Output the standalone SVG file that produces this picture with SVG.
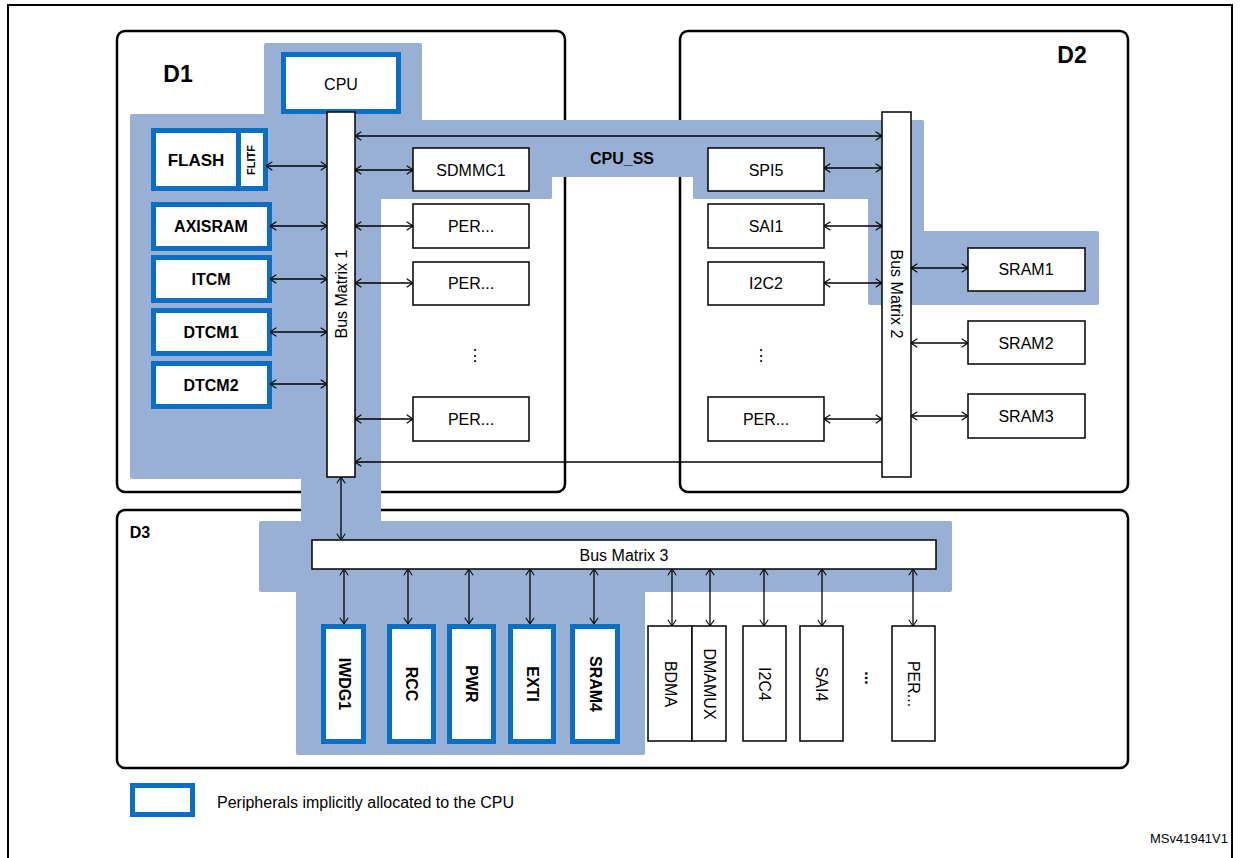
<svg xmlns="http://www.w3.org/2000/svg" width="1240" height="858" viewBox="0 0 1240 858">
<style>
text{font-family:"Liberation Sans",Arial,sans-serif;font-size:16px;fill:#000;text-anchor:middle;dominant-baseline:central}
.b{font-weight:bold}
.dom{fill:none;stroke:#000;stroke-width:2.5}
.w{fill:#fff;stroke:#000;stroke-width:1.5}
.cpu{fill:#fff;stroke:#0a6fc2;stroke-width:5}
.c line{stroke:#000;stroke-width:1.3}
</style>
<defs>
<marker id="a" viewBox="0 0 10 14" refX="10" refY="7" markerWidth="7" markerHeight="10" orient="auto-start-reverse" markerUnits="userSpaceOnUse"><polyline points="1,1 10,7 1,13" fill="none" stroke="#000" stroke-width="1.5"/></marker>
</defs>
<rect width="1240" height="858" fill="#fff"/>
<rect x="8" y="5" width="1224" height="860" fill="none" stroke="#000" stroke-width="2"/>
<g id="domains">
<rect class="dom" x="117" y="31" width="448" height="461" rx="8"/>
<rect class="dom" x="680" y="31" width="448" height="461" rx="8"/>
<rect class="dom" x="117" y="510" width="1011" height="258" rx="8"/>
<text class="b" x="178" y="74" style="font-size:23px">D1</text>
<text class="b" x="1072" y="55" style="font-size:23px">D2</text>
<text class="b" x="140" y="532" style="font-size:16px">D3</text>
</g>
<path id="shade" d="M266,45 H420 V122 H922 V233 H1097 V303 H870 V197 H695 V175 H550 V197 H379 V523 H950 V590 H643 V753 H298 V590 H261 V523 H303 V477 H132 V116 H266 Z" fill="#98b0d3" stroke="#98b0d3" stroke-width="4" stroke-linejoin="round"/>
<g id="cpu"><rect class="cpu" x="283.5" y="54.5" width="115" height="57"/><text x="341" y="84">CPU</text></g>
<g id="flash"><rect class="cpu" x="153.5" y="130.5" width="112" height="58"/><line x1="238.5" y1="130" x2="238.5" y2="189" stroke="#0a6fc2" stroke-width="5"/><text class="b" x="196" y="160" style="font-size:17px">FLASH</text><text class="b" x="251" y="160" transform="rotate(-90 251 160)" style="font-size:11px">FLITF</text></g>
<g id="axisram"><rect class="cpu" x="153.5" y="204.5" width="116" height="44"/><text class="b" x="211" y="226">AXISRAM</text></g>
<g id="itcm"><rect class="cpu" x="153.5" y="257.5" width="116" height="43"/><text class="b" x="211" y="279">ITCM</text></g>
<g id="dtcm1"><rect class="cpu" x="153.5" y="310.5" width="116" height="43"/><text class="b" x="211" y="332">DTCM1</text></g>
<g id="dtcm2"><rect class="cpu" x="153.5" y="363.5" width="116" height="43"/><text class="b" x="211" y="385">DTCM2</text></g>
<g id="bm1"><rect class="w" x="327" y="112" width="28" height="365"/><text x="341" y="294" transform="rotate(-90 341 294)">Bus Matrix 1</text></g>
<g id="bm2"><rect class="w" x="882" y="112" width="29" height="365"/><text x="896" y="294" transform="rotate(90 896 294)">Bus Matrix 2</text></g>
<text id="cpuss" class="b" x="622" y="158">CPU_SS</text>
<g id="sdmmc1"><rect class="w" x="413" y="148" width="116" height="43"/><text x="471" y="170">SDMMC1</text></g>
<g id="per1"><rect class="w" x="413" y="204" width="116" height="44"/><text x="471" y="226">PER...</text></g>
<g id="per2"><rect class="w" x="413" y="262" width="116" height="43"/><text x="471" y="283">PER...</text></g>
<text x="475" y="355">⋮</text>
<g id="per3"><rect class="w" x="413" y="397" width="116" height="44"/><text x="471" y="419">PER...</text></g>
<g id="spi5"><rect class="w" x="708" y="148" width="116" height="43"/><text x="766" y="170">SPI5</text></g>
<g id="sai1"><rect class="w" x="708" y="204" width="116" height="44"/><text x="766" y="226">SAI1</text></g>
<g id="i2c2"><rect class="w" x="708" y="262" width="116" height="43"/><text x="766" y="283">I2C2</text></g>
<text x="761" y="355">⋮</text>
<g id="per4"><rect class="w" x="708" y="397" width="116" height="44"/><text x="766" y="419">PER...</text></g>
<g id="sram1"><rect class="w" x="968" y="248" width="117" height="43"/><text x="1026" y="269">SRAM1</text></g>
<g id="sram2"><rect class="w" x="968" y="321" width="117" height="43"/><text x="1026" y="343">SRAM2</text></g>
<g id="sram3"><rect class="w" x="968" y="394" width="117" height="44"/><text x="1026" y="416">SRAM3</text></g>
<g id="bm3"><rect class="w" x="312" y="540" width="624" height="29"/><text x="624" y="555">Bus Matrix 3</text></g>
<g id="iwdg1"><rect class="cpu" x="323.5" y="626.5" width="40" height="115"/><text class="b" x="344" y="684" transform="rotate(90 344 684)">IWDG1</text></g>
<g id="rcc"><rect class="cpu" x="389.5" y="626.5" width="44" height="115"/><text class="b" x="411" y="684" transform="rotate(90 411 684)">RCC</text></g>
<g id="pwr"><rect class="cpu" x="449.5" y="626.5" width="44" height="115"/><text class="b" x="471" y="684" transform="rotate(90 471 684)">PWR</text></g>
<g id="exti"><rect class="cpu" x="510.5" y="626.5" width="43" height="115"/><text class="b" x="532" y="684" transform="rotate(90 532 684)">EXTI</text></g>
<g id="sram4"><rect class="cpu" x="572.5" y="626.5" width="45" height="115"/><text class="b" x="595" y="684" transform="rotate(90 595 684)">SRAM4</text></g>
<g id="bdma"><rect class="w" x="648" y="626" width="44" height="115"/><text x="670" y="684" transform="rotate(90 670 684)">BDMA</text></g>
<g id="dmamux"><rect class="w" x="692" y="626" width="34" height="115"/><text x="709" y="684" transform="rotate(90 709 684)">DMAMUX</text></g>
<g id="i2c4"><rect class="w" x="743" y="626" width="43" height="115"/><text x="764" y="684" transform="rotate(90 764 684)">I2C4</text></g>
<g id="sai4"><rect class="w" x="800" y="626" width="43" height="115"/><text x="821" y="684" transform="rotate(90 821 684)">SAI4</text></g>
<text class="b" x="870" y="678" transform="rotate(90 870 678)">...</text>
<g id="per5"><rect class="w" x="892" y="626" width="43" height="115"/><text x="913" y="684" transform="rotate(90 913 684)">PER...</text></g>
<g class="c" id="connectors" marker-start="url(#a)" marker-end="url(#a)">
<line x1="266" y1="166" x2="327" y2="166"/>
<line x1="270" y1="226" x2="327" y2="226"/>
<line x1="270" y1="279" x2="327" y2="279"/>
<line x1="270" y1="332" x2="327" y2="332"/>
<line x1="270" y1="384" x2="327" y2="384"/>
<line x1="355" y1="170" x2="413" y2="170"/>
<line x1="355" y1="226" x2="413" y2="226"/>
<line x1="355" y1="283" x2="413" y2="283"/>
<line x1="355" y1="419" x2="413" y2="419"/>
<line x1="824" y1="168" x2="882" y2="168"/>
<line x1="824" y1="226" x2="882" y2="226"/>
<line x1="824" y1="283" x2="882" y2="283"/>
<line x1="824" y1="419" x2="882" y2="419"/>
<line x1="911" y1="268" x2="968" y2="268"/>
<line x1="911" y1="343" x2="968" y2="343"/>
<line x1="911" y1="416" x2="968" y2="416"/>
<line x1="355" y1="136" x2="882" y2="136"/>
<line x1="882" y1="462" x2="355" y2="462" marker-start="none"/>
<line x1="341" y1="477" x2="341" y2="540"/>
<line x1="344" y1="569" x2="344" y2="624"/>
<line x1="408" y1="569" x2="408" y2="624"/>
<line x1="469" y1="569" x2="469" y2="624"/>
<line x1="530" y1="569" x2="530" y2="624"/>
<line x1="594" y1="569" x2="594" y2="624"/>
<line x1="672" y1="569" x2="672" y2="626"/>
<line x1="710" y1="569" x2="710" y2="626"/>
<line x1="764" y1="569" x2="764" y2="626"/>
<line x1="822" y1="569" x2="822" y2="626"/>
<line x1="913" y1="569" x2="913" y2="626"/>
</g>
<g id="legend"><rect class="cpu" x="132.5" y="785.5" width="60" height="29"/><text x="217" y="802" style="text-anchor:start">Peripherals implicitly allocated to the CPU</text></g>
<text x="1228" y="838" style="text-anchor:end;font-size:13px">MSv41941V1</text>
</svg>
